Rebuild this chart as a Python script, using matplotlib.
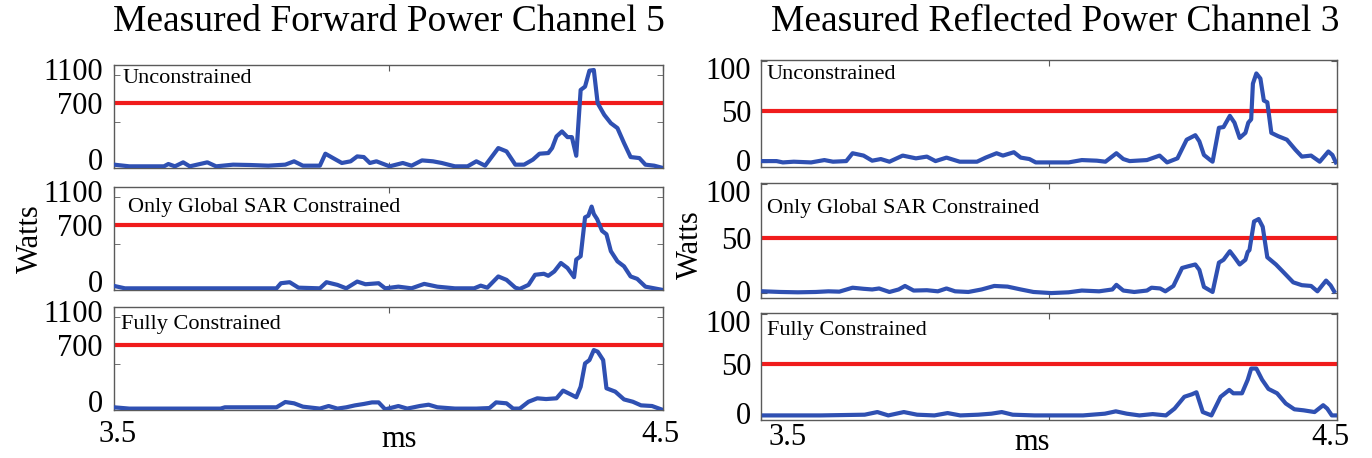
import matplotlib
matplotlib.use("Agg")
import matplotlib.pyplot as plt
import matplotlib.transforms as mtransforms

plt.rcParams["font.family"] = ["Liberation Serif", "DejaVu Serif"]

# ---------------- data ----------------
titles = ["Measured Forward Power Channel 5", "Measured Reflected Power Channel 3"]
panel_labels = ["Unconstrained", "Only Global SAR Constrained", "Fully Constrained"]
forward_limit = 700
reflected_limit = 50
forward_ticks = [0, 700, 1100]
reflected_ticks = [0, 50, 100]
time_ticks = [3.5, 4.0, 4.5]
time_ticklabels = ["3.5", "", "4.5"]

# forward power, channel 5 (W) vs time (ms)
fwd_unc_t = [3.500, 3.528, 3.591, 3.599, 3.611, 3.626, 3.638, 3.670, 3.686, 3.717, 3.749,
             3.781, 3.812, 3.828, 3.844, 3.875, 3.885, 3.899, 3.915, 3.931, 3.943, 3.955,
             3.966, 3.978, 3.994, 4.002, 4.026, 4.042, 4.061, 4.081, 4.097, 4.121, 4.144,
             4.160, 4.176, 4.200, 4.215, 4.231, 4.247, 4.263, 4.275, 4.291, 4.298, 4.306,
             4.316, 4.326, 4.334, 4.342, 4.350, 4.358, 4.366, 4.374, 4.381, 4.393, 4.405,
             4.417, 4.429, 4.441, 4.457, 4.468, 4.484, 4.500]
fwd_unc_w = [36, 18, 18, 43, 18, 61, 18, 61, 18, 36, 32,
             25, 36, 72, 25, 25, 154, 107, 54, 72, 125, 118,
             54, 72, 36, 18, 54, 25, 82, 72, 54, 18, 18,
             72, 25, 215, 179, 36, 36, 90, 154, 161, 215, 340,
             394, 333, 333, 132, 841, 877, 1049, 1056, 698, 573, 483,
             430, 269, 118, 107, 36, 25, 0]

fwd_glob_t = [3.500, 3.520, 3.796, 3.804, 3.820, 3.836, 3.875, 3.887, 3.907, 3.923, 3.943,
              3.958, 3.982, 3.994, 4.018, 4.042, 4.065, 4.089, 4.121, 4.156, 4.168, 4.180,
              4.200, 4.215, 4.231, 4.239, 4.255, 4.267, 4.283, 4.291, 4.302, 4.314, 4.326,
              4.338, 4.342, 4.350, 4.358, 4.364, 4.370, 4.374, 4.380, 4.389, 4.397, 4.405,
              4.417, 4.429, 4.441, 4.453, 4.468, 4.484, 4.500]
fwd_glob_w = [44, 18, 18, 73, 84, 25, 18, 84, 55, 18, 91,
              62, 73, 18, 36, 18, 66, 36, 18, 18, 47, 25,
              146, 109, 25, 11, 55, 164, 175, 153, 200, 291, 237,
              138, 328, 364, 783, 801, 899, 819, 764, 637, 601, 419,
              309, 255, 146, 120, 36, 18, 0]

fwd_full_t = [3.500, 3.528, 3.694, 3.702, 3.796, 3.812, 3.828, 3.844, 3.875, 3.891, 3.907,
              3.923, 3.939, 3.955, 3.970, 3.982, 3.994, 4.018, 4.034, 4.057, 4.073, 4.089,
              4.121, 4.160, 4.184, 4.196, 4.215, 4.227, 4.239, 4.255, 4.271, 4.287, 4.306,
              4.318, 4.334, 4.342, 4.350, 4.358, 4.366, 4.374, 4.381, 4.391, 4.397, 4.413,
              4.429, 4.445, 4.460, 4.480, 4.500]
fwd_full_w = [29, 15, 15, 29, 29, 86, 72, 36, 15, 43, 15,
              29, 50, 65, 82, 82, 7, 43, 15, 43, 57, 29,
              15, 15, 21, 82, 72, 15, 15, 89, 126, 118, 126,
              209, 162, 137, 251, 502, 538, 646, 629, 538, 234, 198,
              114, 89, 50, 43, 0]

# reflected power, channel 3 (W) vs time (ms)
ref_unc_t = [3.500, 3.527, 3.538, 3.557, 3.587, 3.610, 3.625, 3.648, 3.659, 3.678, 3.693,
             3.708, 3.723, 3.746, 3.769, 3.788, 3.803, 3.822, 3.845, 3.875, 3.890, 3.909,
             3.920, 3.939, 3.951, 3.966, 3.977, 4.004, 4.034, 4.057, 4.083, 4.098, 4.117,
             4.129, 4.140, 4.170, 4.192, 4.205, 4.223, 4.239, 4.254, 4.261, 4.269, 4.280,
             4.284, 4.295, 4.303, 4.314, 4.322, 4.331, 4.341, 4.346, 4.351, 4.354, 4.360,
             4.367, 4.373, 4.379, 4.386, 4.398, 4.413, 4.428, 4.439, 4.455, 4.470, 4.485,
             4.492, 4.498]
ref_unc_w = [1.3, 1.3, 0.0, 0.7, 0.0, 2.3, 0.7, 1.3, 9.0, 6.7, 1.7,
             3.3, 0.7, 6.7, 4.0, 5.7, 1.3, 4.7, 0.7, 0.7, 4.7, 9.0,
             6.7, 10.0, 4.7, 3.3, 0.0, 0.0, 0.0, 2.3, 1.7, 0.7, 9.0,
             3.3, 1.3, 2.3, 6.7, 0.0, 4.0, 22.3, 26.7, 20.7, 7.3, 2.3,
             0.7, 34.0, 34.7, 45.7, 39.0, 24.0, 29.0, 39.0, 42.3, 77.3, 87.3,
             82.3, 60.7, 59.0, 29.0, 25.7, 22.3, 12.3, 5.7, 6.7, 0.7, 10.7,
             7.3, 0.0]

ref_glob_t = [3.504, 3.534, 3.564, 3.595, 3.617, 3.636, 3.659, 3.678, 3.693, 3.705, 3.723,
              3.739, 3.750, 3.765, 3.788, 3.807, 3.822, 3.837, 3.860, 3.883, 3.905, 3.928,
              3.951, 3.973, 4.004, 4.034, 4.057, 4.087, 4.110, 4.117, 4.129, 4.148, 4.170,
              4.178, 4.193, 4.202, 4.216, 4.231, 4.242, 4.254, 4.261, 4.269, 4.284, 4.295,
              4.303, 4.314, 4.322, 4.331, 4.341, 4.345, 4.348, 4.356, 4.364, 4.371, 4.379,
              4.394, 4.409, 4.424, 4.439, 4.455, 4.466, 4.481, 4.489, 4.495]
ref_glob_w = [1.6, 1.0, 0.7, 1.0, 1.6, 1.3, 4.9, 3.9, 3.3, 4.2, 1.0,
              3.3, 6.5, 2.3, 2.6, 1.6, 4.2, 1.6, 1.0, 3.3, 6.5, 5.9,
              3.3, 1.0, 0.0, 0.7, 2.3, 1.6, 3.3, 7.5, 2.3, 1.0, 2.3,
              4.9, 4.2, 1.6, 6.5, 22.9, 24.5, 26.1, 21.2, 5.6, 1.0, 27.8,
              30.4, 38.2, 32.7, 26.1, 30.4, 37.6, 39.2, 65.4, 67.6, 60.5, 32.7,
              26.1, 18.0, 9.8, 7.2, 6.5, 1.6, 11.4, 7.0, 1.6]

ref_full_t = [3.505, 3.528, 3.604, 3.680, 3.702, 3.721, 3.748, 3.771, 3.801, 3.824, 3.846,
              3.877, 3.900, 3.918, 3.937, 3.975, 4.021, 4.059, 4.097, 4.116, 4.135, 4.157,
              4.180, 4.203, 4.218, 4.235, 4.248, 4.256, 4.267, 4.282, 4.298, 4.313, 4.320,
              4.335, 4.345, 4.351, 4.360, 4.370, 4.381, 4.396, 4.411, 4.426, 4.442, 4.461,
              4.476, 4.483, 4.491, 4.497]
ref_full_w = [0.0, 0.0, 0.0, 0.7, 3.3, 0.0, 3.3, 0.7, 0.0, 2.3, 0.0,
              0.7, 1.7, 3.3, 0.7, 0.0, 0.0, 0.0, 1.7, 4.0, 1.7, 0.0,
              1.3, 0.0, 6.7, 18.3, 20.7, 22.7, 3.3, 0.0, 18.3, 25.0, 21.7,
              21.7, 35.0, 46.0, 46.0, 35.0, 26.0, 21.7, 11.7, 6.0, 5.0, 3.3,
              10.0, 6.7, 0.0, 0.0]

forward_series = [(fwd_unc_t, fwd_unc_w), (fwd_glob_t, fwd_glob_w), (fwd_full_t, fwd_full_w)]
reflected_series = [(ref_unc_t, ref_unc_w), (ref_glob_t, ref_glob_w), (ref_full_t, ref_full_w)]

# ---------------- styling ----------------
W, H = 1372, 458
BLUE = "#2f50b2"
RED = "#f01c1c"
SPINE = "#5a5a5a"

fig = plt.figure(figsize=(W / 100, H / 100), dpi=100)


def rect(x0, x1, y_top, y_bot):
    return [x0 / W, 1 - y_bot / H, (x1 - x0) / W, (y_bot - y_top) / H]


def nudge(text, dx_px, dy_px):
    """Shift a text artist by a few pixels (positive dy is up)."""
    text.set_transform(text.get_transform() +
                       mtransforms.ScaledTranslation(dx_px / 100, dy_px / 100,
                                                     fig.dpi_scale_trans))


left_rows = [(65, 168), (187, 290), (307, 410)]
right_rows = [(60, 167), (183, 298), (313, 420)]
left_label_pos = [(0.015, 0.87), (0.025, 0.80), (0.012, 0.83)]
right_label_pos = [(0.01, 0.86), (0.01, 0.78), (0.01, 0.84)]


def style_axes(ax):
    for s in ax.spines.values():
        s.set_color(SPINE)
        s.set_linewidth(1.0)
    ax.set_xlim(3.5, 4.5)
    ax.set_xticks(time_ticks)
    ax.tick_params(axis="x", which="major", direction="in", length=4,
                   top=True, bottom=True, color=SPINE)


# forward power column
for i, ((t, w), (yt, yb)) in enumerate(zip(forward_series, left_rows)):
    ax = fig.add_axes(rect(114, 663, yt, yb))
    style_axes(ax)
    ax.axhline(forward_limit, color=RED, lw=3.0, zorder=2)
    ax.plot(t, w, color=BLUE, lw=3.0, zorder=3, solid_joinstyle="round")
    ax.set_ylim(0, 1110)
    ax.set_yticks(forward_ticks)
    ax.set_yticklabels([str(v) for v in forward_ticks])
    ax.set_yticks([500, 1000], minor=True)
    ax.tick_params(axis="y", which="major", length=0, labelsize=22, pad=8)
    ax.tick_params(axis="y", which="minor", direction="in", length=4,
                   left=True, right=True, color=SPINE)
    lx, ly = left_label_pos[i]
    ax.text(lx, ly, panel_labels[i], transform=ax.transAxes,
            fontsize=16, va="center", ha="left")
    if i == 2:
        ax.set_xticklabels(time_ticklabels)
        ax.tick_params(axis="x", labelsize=22, pad=7)
        ax.set_xlabel("ms", fontsize=22, va="baseline")
        ax.xaxis.set_label_coords(0.52, -0.36)
        xt = ax.xaxis.get_major_ticks()
        nudge(xt[0].label1, 4, 0)
        nudge(xt[2].label1, -3, 0)
    else:
        ax.tick_params(axis="x", labelbottom=False)
    if i == 1:
        ax.set_ylabel("Watts", fontsize=22, va="center")
        ax.yaxis.set_label_coords(-0.153, 0.5)
    yt_major = ax.yaxis.get_major_ticks()
    nudge(yt_major[0].label1, 0, 9)
    nudge(yt_major[2].label1, 0, -3)

# reflected power column
for i, ((t, w), (yt, yb)) in enumerate(zip(reflected_series, right_rows)):
    ax = fig.add_axes(rect(761, 1337, yt, yb))
    style_axes(ax)
    ax.axhline(reflected_limit, color=RED, lw=3.0, zorder=2)
    ax.plot(t, w, color=BLUE, lw=3.0, zorder=3, solid_joinstyle="round")
    ax.set_ylim(-4.5, 100.5)
    ax.set_yticks(reflected_ticks)
    ax.set_yticklabels([str(v) for v in reflected_ticks])
    ax.tick_params(axis="y", which="major", direction="in", length=4,
                   left=True, right=True, color=SPINE, labelsize=22, pad=7)
    lx, ly = right_label_pos[i]
    ax.text(lx, ly, panel_labels[i], transform=ax.transAxes,
            fontsize=16, va="center", ha="left")
    if i == 2:
        ax.set_xticklabels(time_ticklabels)
        ax.tick_params(axis="x", labelsize=22, pad=2)
        ax.set_xlabel("ms", fontsize=22, va="baseline")
        ax.xaxis.set_label_coords(0.47, -0.28)
        xt = ax.xaxis.get_major_ticks()
        nudge(xt[0].label1, 27, 0)
        nudge(xt[2].label1, -7, 0)
    else:
        ax.tick_params(axis="x", labelbottom=False)
    if i == 1:
        ax.set_ylabel("Watts", fontsize=22, va="center")
        ax.yaxis.set_label_coords(-0.123, 0.46)
    yt_major = ax.yaxis.get_major_ticks()
    nudge(yt_major[0].label1, 0, 2)
    nudge(yt_major[2].label1, 0, -7)

fig.text(389 / W, 1 - 22 / H, titles[0], fontsize=27, ha="center", va="center")
fig.text(1055 / W, 1 - 22 / H, titles[1], fontsize=27, ha="center", va="center")

fig.savefig("out.png", dpi=100, facecolor="white")
